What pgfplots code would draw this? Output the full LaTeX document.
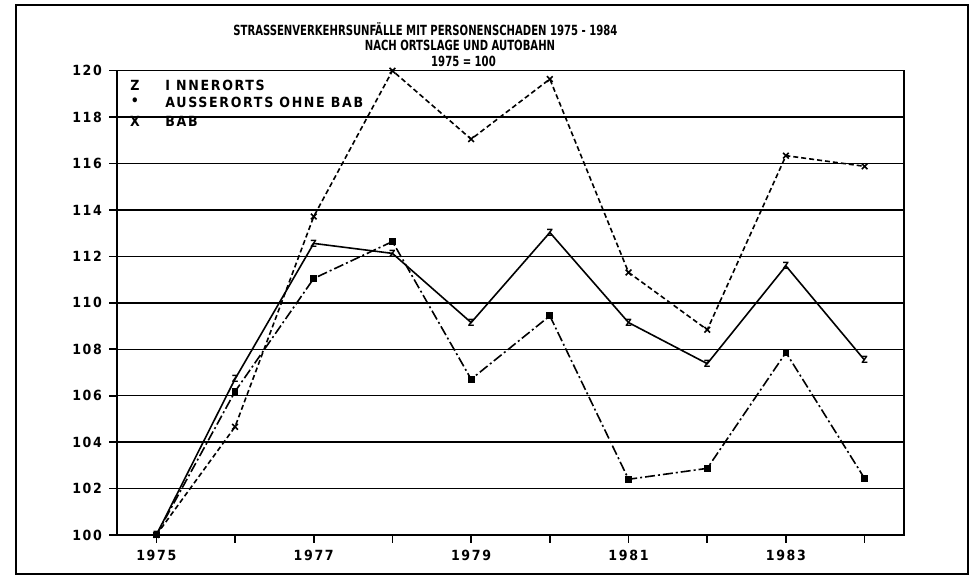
\documentclass[border=0pt]{standalone}
\usepackage{pgfplots}
\pgfplotsset{compat=1.18}
\usepackage{fontspec}
\setmainfont{DejaVu Sans Condensed}
\newfontfamily\spaced{DejaVu Sans Condensed}[LetterSpace=12]
\newcommand\ttl[1]{\scalebox{0.8}[1]{\fontsize{7}{8}\selectfont\bfseries #1}}

% data (1975 = 100)
\pgfplotstableread{
year inner ausser bab
1975 100.00 100.00 100.00
1976 106.72 106.18 104.66
1977 112.56 111.05 113.72
1978 112.13 112.64 120.00
1979 109.15 106.71 117.05
1980 113.03 109.44 119.64
1981 109.15 102.40 111.31
1982 107.38 102.87 108.84
1983 111.59 107.86 116.34
1984 107.53 102.43 115.88
}\unfall

\begin{document}
\begin{tikzpicture}
\path[use as bounding box] (-58.5pt,-20.5pt) rectangle (429.5pt,267.5pt);
\draw[line width=1.2pt] (-50.5pt,-19.5pt) rectangle (425.5pt,265pt);
\begin{axis}[
  at={(0,0)}, anchor=south west, scale only axis,
  width=393.5pt, height=232.15pt,
  xmin=1974.5, xmax=1984.5, ymin=100, ymax=120,
  xtick={1975,...,1984},
  xticklabels={1975,,1977,,1979,,1981,,1983,},
  ytick={100,102,...,120},
  ymajorgrids,
  grid style={black, line width=0.7pt},
  axis line style={line width=0.8pt},
  tick align=outside, tick pos=left,
  major tick length=4pt,
  tick style={black, line width=0.8pt},
  /pgf/number format/assume math mode=true,
  /pgf/number format/1000 sep={},
  tick label style={font=\fontsize{7}{8}\selectfont\spaced\bfseries},
  clip=false,
]
\addplot[black, line width=0.8pt, mark=text,
  text mark={\fontsize{5}{5}\selectfont\bfseries Z},
  mark options={solid}] table[x=year, y=inner] {\unfall};
\addplot[black, line width=0.8pt,
  dash pattern=on 5pt off 1.5pt on 1pt off 1.5pt,
  mark=square*, mark size=1.3pt, mark options={solid}]
  table[x=year, y=ausser] {\unfall};
\addplot[black, line width=0.8pt, dash pattern=on 2.5pt off 1.5pt,
  mark=x, mark size=2pt, mark options={solid}]
  table[x=year, y=bab] {\unfall};
\end{axis}
% titles
\node[anchor=west, inner sep=0pt] at (58pt,253pt)
  {\ttl{STRASSENVERKEHRSUNFÄLLE MIT PERSONENSCHADEN 1975 - 1984}};
\node[inner sep=0pt] at (171.5pt,245pt) {\ttl{NACH ORTSLAGE UND AUTOBAHN}};
\node[inner sep=0pt] at (173.25pt,237pt) {\ttl{1975 = 100}};
% legend
\begin{scope}[every node/.style={inner sep=0pt, font=\fontsize{7}{8}\selectfont\spaced\bfseries}]
\node at (9pt,225pt) {Z};
\node[anchor=west] at (24pt,225pt) {I NNERORTS};
\node at (9pt,216.5pt) {•};
\node[anchor=west] at (24pt,216.5pt) {AUSSERORTS OHNE BAB};
\node at (9pt,207pt) {X};
\node[anchor=west] at (24pt,207pt) {BAB};
\end{scope}
\end{tikzpicture}
\end{document}
